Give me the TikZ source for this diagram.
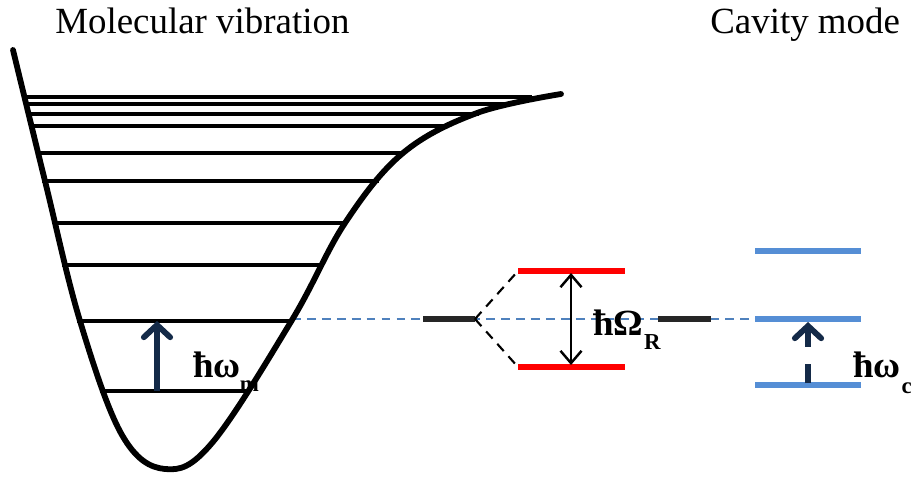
\documentclass[tikz,border=0pt]{standalone}
\usepackage{fontspec}
\setmainfont{Liberation Serif}
\usepackage{tikz}
\usetikzlibrary{arrows.meta}
\definecolor{cavblue}{HTML}{558ED5}
\definecolor{dashblue}{HTML}{4F81BD}
\definecolor{arrnavy}{HTML}{142A48}
\definecolor{bargray}{HTML}{262626}
\definecolor{polred}{HTML}{FF0000}

\begin{document}
\begin{tikzpicture}[x=0.02cm,y=-0.02cm,
  well/.style={line width=3.3pt,line join=round,line cap=round},
  lvl/.style={line width=1.9pt},
  molbar/.style={draw=bargray,line width=3.6pt},
  polbar/.style={draw=polred,line width=3.8pt},
  cavbar/.style={draw=cavblue,line width=3.9pt},
  splitln/.style={line width=1.2pt,dash pattern=on 5.5pt off 4pt},
  resln/.style={draw=dashblue,line width=1pt,dash pattern=on 5pt off 3.5pt},
  vibarr/.style={draw=arrnavy,line width=3.3pt,
                 -{Straight Barb[length=7pt,width=15pt,line cap=round]}},
  rabiarr/.style={line width=1.4pt,
                 {Straight Barb[length=7pt,width=12pt]}-{Straight Barb[length=7pt,width=12pt]}},
  ttl/.style={font=\fontsize{21}{25}\selectfont,inner sep=0pt,anchor=base west},
  elab/.style={font=\fontsize{21}{25}\selectfont\bfseries,inner sep=0pt,anchor=base west},
  sub/.style={font=\fontsize{13}{15}\selectfont\bfseries,inner sep=0pt,anchor=base west}]

\useasboundingbox (0,0) rectangle (911,476);

% ---------------- titles ----------------------------------------------------
\node[ttl] (tmol) at (55,34) {Molecular vibration};
\node[ttl] (tcav) at (710,34) {Cavity mode};

% ---------------- resonance line (behind everything) ------------------------
\coordinate (rl0) at (292,319);
\coordinate (rl1) at (755,319);
\draw[resln] (rl0) -- (rl1);

% ---------------- molecular potential well ----------------------------------
\foreach \yy/\xl/\xr in {97/22/532,104/24/507,114/26/479,126/30/445,153/36/405,
                        181/42/379,223/54/347,265/62/324,321/77/294,391/100/249}
  \draw[lvl] (\xl,\yy) -- (\xr,\yy);
\draw[well] plot[smooth,tension=0.6] coordinates {
  (13,50) (45,181) (80,321) (122,435) (165,469) (212,443)
  (292,320) (345,223) (403,153) (477,113) (561,94)};

\coordinate (v0) at (157,391);
\coordinate (v1) at (157,321);
\draw[vibarr] (v0) -- (v1);
\node[elab] (lbm) at (193,377) {ħω};
\node[sub] (lbmsub) at (lbm.base east) [yshift=-8.5pt,xshift=-1pt] {m};

% ---------------- polaritons -------------------------------------------------
\coordinate (pl0) at (423,319);
\coordinate (pl1) at (475,319);
\coordinate (pr0) at (658,319);
\coordinate (pr1) at (711,319);
\draw[molbar] (pl0) -- (pl1);
\draw[molbar] (pr0) -- (pr1);

\coordinate (up0) at (518,271);
\coordinate (up1) at (625,271);
\coordinate (lp0) at (518,367);
\coordinate (lp1) at (625,367);
\draw[polbar] (up0) -- (up1);
\draw[polbar] (lp0) -- (lp1);
\draw[splitln] (pl1) -- (up0);
\draw[splitln] (pl1) -- (lp0);

\coordinate (ra0) at (571,273);
\coordinate (ra1) at (571,365);
\draw[rabiarr] (ra0) -- (ra1);
\node[elab] (lbr) at (593,335) {ħΩ};
\node[sub] (lbrsub) at (lbr.base east) [yshift=-8.5pt] {R};

% ---------------- cavity ladder ---------------------------------------------
\foreach \yy/\nm in {251/c2,319/c1,385/c0} {
  \coordinate (\nm a) at (755,\yy);
  \coordinate (\nm b) at (861,\yy);
  \draw[cavbar] (\nm a) -- (\nm b);
}
\coordinate (cv0) at (808,383);
\coordinate (cv1) at (808,322);
\draw[vibarr,dash pattern=on 11pt off 9.5pt] (cv0) -- (cv1);
\node[elab] (lbc) at (853,377) {ħω};
\node[sub] (lbcsub) at (lbc.base east) [yshift=-9.5pt] {c};

\end{tikzpicture}
\end{document}
